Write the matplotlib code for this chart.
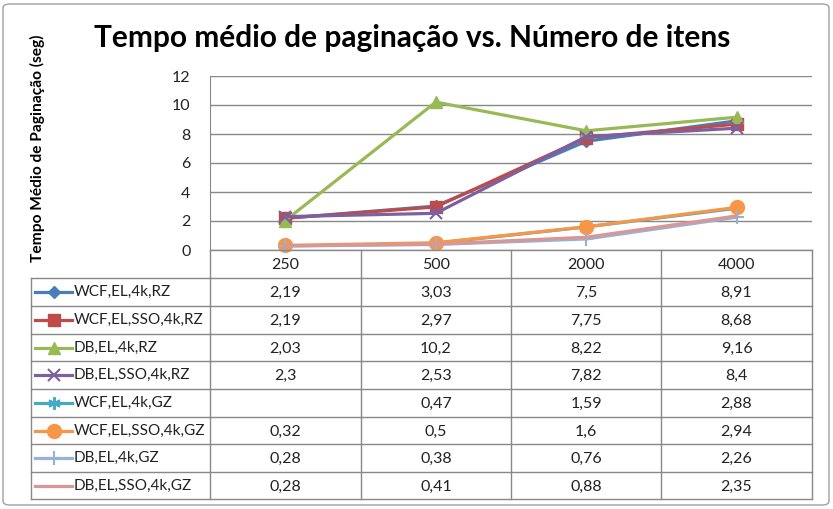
import matplotlib
matplotlib.use("Agg")
import matplotlib.pyplot as plt
from matplotlib.patches import FancyBboxPatch
from matplotlib.lines import Line2D
import numpy as np

# --- Dados ---
categorias = ["250", "500", "2000", "4000"]
series = [
    "WCF,EL,4k,RZ",
    "WCF,EL,SSO,4k,RZ",
    "DB,EL,4k,RZ",
    "DB,EL,SSO,4k,RZ",
    "WCF,EL,4k,GZ",
    "WCF,EL,SSO,4k,GZ",
    "DB,EL,4k,GZ",
    "DB,EL,SSO,4k,GZ",
]
wcf_el_rz = [2.19, 3.03, 7.5, 8.91]
wcf_sso_rz = [2.19, 2.97, 7.75, 8.68]
db_el_rz = [2.03, 10.2, 8.22, 9.16]
db_sso_rz = [2.3, 2.53, 7.82, 8.4]
wcf_el_gz = [None, 0.47, 1.59, 2.88]
wcf_sso_gz = [0.32, 0.5, 1.6, 2.94]
db_el_gz = [0.28, 0.38, 0.76, 2.26]
db_sso_gz = [0.28, 0.41, 0.88, 2.35]
valores = [wcf_el_rz, wcf_sso_rz, db_el_rz, db_sso_rz,
           wcf_el_gz, wcf_sso_gz, db_el_gz, db_sso_gz]

# --- Estilo ---
cores = ["#4A7EBB", "#BE4B48", "#98B954", "#7D60A0",
         "#46AAC5", "#F79646", "#95B3D7", "#D99694"]
marcadores = ["D", "s", "^", "x", (6, 2, 0), "o", "+", None]
tam_marc = [6, 9, 9, 9, 9, 10, 10, 0]
FONTE = "Lato"
W, H = 833, 509

fig = plt.figure(figsize=(W / 100, H / 100), dpi=100)
fig.patch.set_facecolor("white")


def fx(px):
    return px / W


def fy(py):
    return 1 - py / H


# borda externa
fig.patches.append(FancyBboxPatch((fx(3), fy(505)), fx(826), 501 / H,
                                  boxstyle="round,pad=0,rounding_size=0.008",
                                  transform=fig.transFigure, fill=False,
                                  edgecolor="#A0A0A0", linewidth=1.0))

# --- Eixo do gráfico ---
x0, x1, ytop, ybot = 210, 812, 76, 250
ax = fig.add_axes([fx(x0), fy(ybot), fx(x1 - x0), (ybot - ytop) / H])
ax.set_xlim(0, 4)
ax.set_ylim(0, 12)
ax.set_yticks(np.arange(0, 13, 2))
ax.set_xticks([])
for s in ["top", "right", "bottom"]:
    ax.spines[s].set_visible(False)
ax.spines["left"].set_color("#888888")
ax.yaxis.grid(True, color="#888888", linewidth=1.0)
ax.tick_params(axis="y", length=0, pad=14, labelsize=11.5, labelcolor="#222222")
for lb in ax.get_yticklabels():
    lb.set_fontfamily(FONTE)
ax.set_axisbelow(True)

xs = np.arange(len(categorias)) + 0.5
for i, vals in enumerate(valores):
    v = np.array([np.nan if a is None else a for a in vals], dtype=float)
    ax.plot(xs, v, color=cores[i], linewidth=2.3, marker=marcadores[i],
            markersize=tam_marc[i], markeredgewidth=1.5 if i in (3, 4, 6) else 1,
            markeredgecolor=cores[i], clip_on=False, zorder=3 + i * 0.1)

# título e rótulo Y
fig.text(fx(412), fy(38), "Tempo médio de paginação vs. Número de itens",
         ha="center", va="center", fontsize=21.5, fontweight="bold",
         family=FONTE, color="black")
fig.text(fx(37), fy(148), "Tempo Médio de Paginação (seg)", rotation=90,
         ha="center", va="center", fontsize=11.2, fontweight="bold",
         family=FONTE, color="black")

# --- Tabela de dados ---
col_x = [31, 210, 361, 511, 661, 812]
row_y = [250, 278, 306, 334, 361, 389, 417, 444, 472, 499]
cor_linha = "#888888"


def hline(y, xa, xb):
    fig.add_artist(Line2D([fx(xa), fx(xb)], [fy(y), fy(y)], color=cor_linha,
                          linewidth=1.0, transform=fig.transFigure))


def vline(x, ya, yb):
    fig.add_artist(Line2D([fx(x), fx(x)], [fy(ya), fy(yb)], color=cor_linha,
                          linewidth=1.0, transform=fig.transFigure))


hline(row_y[0], col_x[1], col_x[-1])
for y in row_y[1:]:
    hline(y, col_x[0], col_x[-1])
vline(col_x[0], row_y[1], row_y[-1])
for x in col_x[1:]:
    vline(x, row_y[0], row_y[-1])

for j, c in enumerate(categorias):
    xc = (col_x[j + 1] + col_x[j + 2]) / 2
    fig.text(fx(xc), fy((row_y[0] + row_y[1]) / 2 + 1), c, ha="center",
             va="center", fontsize=11.5, family=FONTE, color="#222222")

for i, nome in enumerate(series):
    yc = (row_y[i + 1] + row_y[i + 2]) / 2
    # amostra da legenda
    fig.add_artist(Line2D([fx(35), fx(72)], [fy(yc), fy(yc)], color=cores[i],
                          linewidth=2.3, transform=fig.transFigure))
    if marcadores[i] is not None:
        fig.add_artist(Line2D([fx(53.5)], [fy(yc)], color=cores[i],
                              marker=marcadores[i], markersize=tam_marc[i],
                              markeredgecolor=cores[i],
                              markeredgewidth=1.5 if i in (3, 4, 6) else 1,
                              linestyle="none", transform=fig.transFigure))
    fig.text(fx(74), fy(yc), nome, ha="left", va="center", fontsize=11,
             family=FONTE, color="#222222")
    for j, v in enumerate(valores[i]):
        if v is None:
            continue
        xc = (col_x[j + 1] + col_x[j + 2]) / 2
        txt = ("%g" % v).replace(".", ",")
        fig.text(fx(xc), fy(yc + 1), txt, ha="center", va="center",
                 fontsize=11.5, family=FONTE, color="#222222")

fig.savefig("out.png", dpi=100, facecolor="white")
